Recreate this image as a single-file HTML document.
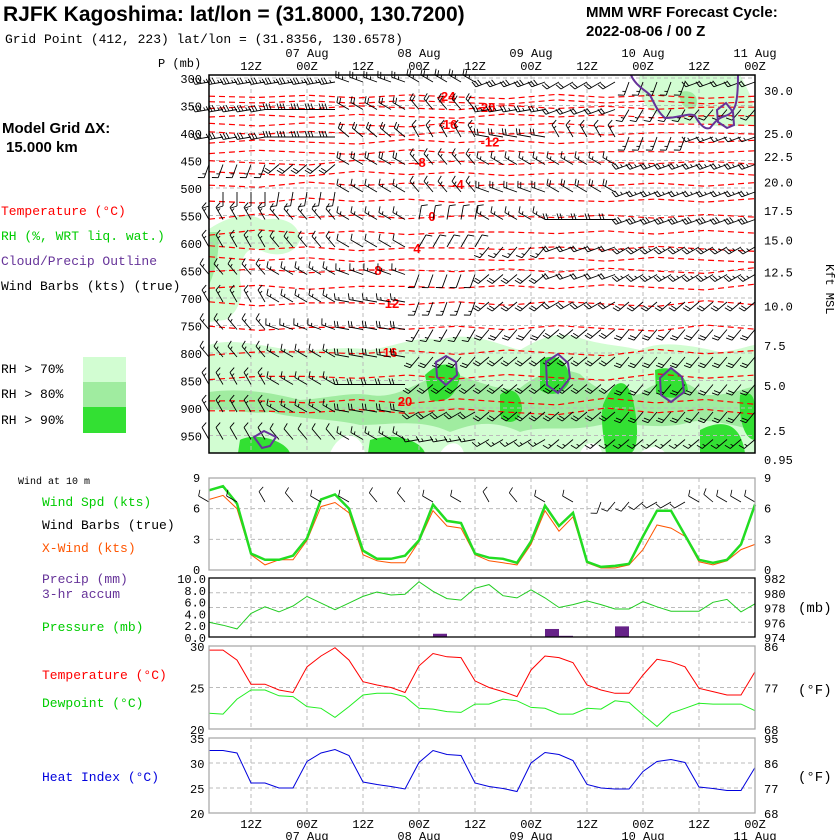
<!DOCTYPE html>
<html><head><meta charset="utf-8"><style>
body{margin:0;background:#fff;}
svg{display:block;font-family:"Liberation Mono","DejaVu Sans Mono",monospace;}
.s{font-family:"Liberation Sans",sans-serif;}
</style></head><body>
<svg id="c" width="840" height="840" viewBox="0 0 840 840" xmlns="http://www.w3.org/2000/svg">
<g class="s">
<text x="3" y="21" font-size="21" font-weight="bold">RJFK Kagoshima:  lat/lon = (31.8000, 130.7200)</text>
<text x="5" y="43" font-size="13" font-family="Liberation Mono,monospace">Grid Point (412, 223) lat/lon = (31.8356, 130.6578)</text>
<text x="586" y="17" font-size="15" font-weight="bold">MMM WRF Forecast Cycle:</text>
<text x="586" y="36" font-size="15" font-weight="bold">2022-08-06 / 00  Z</text>
<text x="2" y="133" font-size="15" font-weight="bold">Model Grid ΔX:</text>
<text x="6" y="152" font-size="15" font-weight="bold">15.000 km</text>
</g>
<g font-size="13">
<text x="1" y="215" fill="#f00">Temperature (°C)</text>
<text x="1" y="240" fill="#00cc00">RH (%, WRT liq. wat.)</text>
<text x="1" y="265" fill="#663399">Cloud/Precip Outline</text>
<text x="1" y="290" fill="#000">Wind Barbs (kts) (true)</text>
<text x="1" y="373">RH &gt; 70%</text>
<text x="1" y="398">RH &gt; 80%</text>
<text x="1" y="424">RH &gt; 90%</text>
<rect x="83" y="357" width="43" height="25" fill="#d2fdd2"/>
<rect x="83" y="382" width="43" height="25" fill="#a0eca0"/>
<rect x="83" y="407" width="43" height="26" fill="#33e033"/>
<text x="18" y="484" font-size="10">Wind at 10 m</text>
<text x="42" y="506" fill="#00cc00">Wind Spd (kts)</text>
<text x="42" y="529">Wind Barbs (true)</text>
<text x="42" y="552" fill="#ff5500">X-Wind (kts)</text>
<text x="42" y="583" fill="#663399">Precip (mm)</text>
<text x="42" y="598" fill="#663399">3-hr accum</text>
<text x="42" y="631" fill="#00cc00">Pressure (mb)</text>
<text x="42" y="679" fill="#f00">Temperature (°C)</text>
<text x="42" y="707" fill="#00cc00">Dewpoint (°C)</text>
<text x="42" y="781" fill="#0000dd">Heat Index (°C)</text>
</g>
<g id="topPanel"></g>
<g id="botPanel"></g>
</svg>
<script>
const NS="http://www.w3.org/2000/svg";
// ---- data ----
const levels=[300,350,400,450,500,550,600,650,700,750,800,850,900,950];
const kftLabels=["30.0","25.0","22.5","20.0","17.5","15.0","12.5","10.0","7.5","5.0","2.5","0.95"];
const kftPres=[322,400,442,488,540,594,652,714,785,858,940,993];
const hourLabels=["12Z","00Z","12Z","00Z","12Z","00Z","12Z","00Z","12Z","00Z"];
const dateLabels=["07 Aug","08 Aug","09 Aug","10 Aug","11 Aug"];
const isoTemps=[-24,-20,-16,-12,-8,-4,0,4,8,12,16,20];
const isoPres=[333,353,384,415,453,493,551,609,649,709,798,887];
const isoWiggle=[0,3,-2,4,-3,2,6,-4,3,-2,5,0];
const barbDir=[[260,260,290,300,250,240,200,250],[260,270,300,320,260,250,210,220],[260,270,310,330,280,330,200,250],[200,230,300,320,300,300,250,250],[180,190,300,320,290,300,250,250],[330,320,300,10,300,270,250,250],[330,320,300,30,220,250,240,240],[320,300,290,200,230,250,240,240],[330,300,280,200,230,240,230,230],[320,290,280,210,220,230,220,220],[320,300,280,220,230,230,220,220],[330,300,270,230,230,230,220,220],[330,300,280,240,230,230,220,220],[330,320,300,260,240,230,230,230]];
const barbSpd=[[35,35,25,25,30,20,15,20],[35,30,20,20,25,20,15,15],[30,30,20,15,20,15,15,15],[15,20,20,15,15,15,25,25],[10,10,15,15,20,20,25,25],[15,15,15,10,15,20,30,30],[15,15,10,10,15,20,25,25],[15,15,15,10,20,20,25,25],[15,15,15,15,20,20,20,20],[15,15,20,15,20,20,20,20],[15,15,20,20,20,20,20,20],[15,15,20,20,20,20,20,20],[15,15,20,20,20,20,20,20],[10,10,15,15,15,15,15,15]];
const windSpd=[7.8,8.2,6.5,1.6,1.0,1.0,1.4,3.1,6.9,7.4,6.0,1.9,1.1,1.1,1.4,2.9,6.4,4.8,4.6,1.6,1.2,1.1,0.7,2.8,6.3,4.3,5.6,0.8,0.3,0.4,0.6,3.3,5.8,5.8,3.4,1.0,0.7,1.0,2.5,6.4];
const xWind=[6.9,7.3,6.0,1.5,0.5,1.0,1.0,2.9,6.2,6.6,5.6,1.5,0.9,0.7,0.7,2.8,5.8,4.3,4.1,1.5,0.9,0.7,0.5,2.5,5.8,3.8,5.2,0.7,0.2,0.2,0.5,2.0,4.4,4.1,3.3,0.8,0.5,0.9,2.0,2.5];
const sfcDir=[300,300,300,320,330,330,320,320,300,300,300,320,320,320,320,300,300,300,300,320,330,320,320,300,300,300,300,0,200,220,220,230,240,240,240,300,310,300,300,300];
const pressure=[976.0,975.6,975.1,977.2,978.1,977.4,978.2,979.5,978.6,977.7,978.6,979.5,980.1,979.7,979.8,981.5,980.2,979.2,979.0,980.6,981.1,979.6,979.3,980.4,979.3,978.0,978.4,978.9,978.4,977.8,977.8,978.8,978.1,977.5,977.5,977.5,978.7,979.1,977.4,978.5];
const precip=[0,0,0,0,0,0,0,0,0,0,0,0,0,0,0,0,0.55,0,0,0,0,0,0,0,1.36,0.2,0,0,0,1.8,0,0,0,0,0,0,0,0,0];
const temp=[29.5,29.5,28.3,25.4,25.4,24.7,24.4,27.5,28.8,29.8,28.3,25.7,25.3,25.0,24.4,27.6,29.1,28.7,28.6,25.8,25.0,24.5,23.9,27.1,28.8,28.6,28.0,25.3,24.7,24.3,24.3,26.5,28.4,28.1,27.5,24.9,24.5,24.1,24.1,26.9];
const dewp=[21.9,21.8,23.6,24.7,24.7,24.0,23.9,22.7,22.5,21.4,22.7,24.1,24.3,24.3,23.9,22.5,22.4,22.1,22.0,23.0,23.0,23.6,23.4,22.6,22.5,21.8,21.8,22.5,22.4,23.4,23.2,21.7,20.3,21.9,22.5,23.1,23.0,23.0,23.0,22.2];
const heatIdx=[32.5,32.5,32.0,26.0,26.0,25.0,25.0,30.3,32.0,32.7,31.5,26.2,25.7,25.3,24.8,30.1,32.5,31.7,31.5,26.0,25.3,24.9,24.3,30.0,32.1,31.7,30.5,25.7,25.0,24.8,24.8,28.3,30.3,30.7,30.1,25.2,24.9,24.5,24.5,29.1];
// ---- scales ----
const X0=209,X1=755,DX=14;
const xI=i=>X0+i*DX;
const yP=p=>78+(p-300)/50*27.5;
const ySpd=v=>570-v*(92/9);
const yPres=v=>637-(v-974)*(59/8);
const yPrecip=v=>637-v*5.9;
const yT=v=>729-(v-20)*8.3;
const yHI=v=>813-(v-20)*5;
function el(tag,attrs,parent,text){const e=document.createElementNS(NS,tag);for(const k in attrs)e.setAttribute(k,attrs[k]);if(text!==undefined)e.textContent=text;parent.appendChild(e);return e;}
const gTop=document.getElementById('topPanel'),gBot=document.getElementById('botPanel');
const gridX=[];for(let k=0;k<10;k++)gridX.push(251+56*k);
// ---- RH shading ----
const shade=[
["#d2fdd2","M209,229 C230,215 250,212 262,220 C285,215 300,225 300,240 C295,255 275,258 260,250 C245,245 240,260 240,280 C245,300 235,315 225,320 L209,322 Z"],
["#d2fdd2","M209,345 C230,338 260,345 290,350 C320,352 340,345 370,350 C400,345 420,335 440,340 C470,330 500,345 520,350 C540,338 560,330 580,338 C600,345 620,345 640,350 C660,340 690,345 720,352 C740,350 750,345 755,345 L755,453 L209,453 Z"],
["#a0eca0","M209,232 L218,232 C220,250 216,270 209,285 Z"],
["#a0eca0","M209,392 C240,388 270,392 300,400 C330,398 350,392 370,395 C400,400 420,378 450,372 C480,382 500,392 520,388 C540,372 560,366 580,374 C600,394 620,398 640,394 C660,376 690,378 700,394 C720,398 740,390 755,386 L755,430 C730,425 710,418 690,422 C660,432 620,420 600,425 C570,432 540,425 520,432 C490,418 470,425 450,432 C420,418 390,425 360,425 C330,418 300,420 270,412 C250,415 230,408 209,410 Z"],
["#33e033","M425,375 C440,360 455,362 460,375 C458,395 445,405 430,400 Z"],
["#33e033","M540,360 C555,352 568,360 570,380 C565,395 550,397 540,390 Z"],
["#33e033","M603,405 C615,375 630,375 635,410 C640,440 635,453 630,453 L606,453 C604,440 600,420 603,405 Z"],
["#33e033","M655,370 C668,365 685,370 688,390 C680,400 665,400 656,392 Z"],
["#33e033","M500,395 C510,385 522,392 522,410 C518,425 505,425 500,415 Z"],
["#33e033","M740,395 C750,390 755,395 755,410 L755,440 C745,440 738,420 740,395 Z"],
["#33e033","M240,440 C255,432 285,440 290,453 L238,453 Z"],
["#33e033","M370,440 C395,432 420,440 425,453 L368,453 Z"],
["#33e033","M700,430 C720,420 740,420 745,453 L700,453 Z"],
["#d2fdd2","M640,75 L740,75 C748,90 755,100 755,125 C740,125 720,130 700,122 C680,128 665,118 650,110 C640,100 636,85 640,75 Z"],
["#a0eca0","M680,92 C695,88 700,100 695,108 C685,112 678,102 680,92 Z"]
];
const gS=el('g',{},gTop);
shade.forEach(s=>{const p=el('path',{d:s[1],fill:s[0]},gS);});
[["M330,453 C340,430 360,430 365,453 Z"],["M580,453 C585,440 600,440 602,453 Z"],["M640,453 C650,445 660,445 665,453 Z"],["M440,453 C448,440 460,440 464,453 Z"]].forEach(h=>{const p=el('path',{d:h[0],fill:'#fff'},gS);});
// ---- grids ----
const gG=el('g',{stroke:'#bbb','stroke-dasharray':'4,3','stroke-width':1},gTop);
levels.forEach(p=>el('line',{x1:X0,x2:X1,y1:yP(p),y2:yP(p)},gG));
gridX.forEach(x=>el('line',{x1:x,x2:x,y1:75,y2:453},gG));
// ---- isotherms ----
const gI=el('g',{},gTop);
const isoLabelX=[446,486,448,490,420,458,432,417,378,392,390,405];
for(let k=0;k<isoTemps.length;k++){
  const p0=isoPres[k];
  for(const off of [0,(k<isoTemps.length-1?(isoPres[k+1]-p0)/2:18)]){
    let d='';for(let j=0;j<isoWiggle.length;j++){const x=X0+j*(X1-X0)/(isoWiggle.length-1);const y=yP(p0+off+isoWiggle[(j+k)%isoWiggle.length]*0.5*(1+p0/600));d+=(j?'L':'M')+x.toFixed(1)+','+y.toFixed(1);}
    const l=el('path',{d:d,fill:'none',stroke:'#f00','stroke-width':1.2,'stroke-dasharray':'6,4'},gI);
    
  }
  const t=el('text',{x:isoLabelX[k],y:yP(p0)+5,fill:'#f00','font-size':13,'font-weight':'bold','font-family':'Liberation Sans,sans-serif','text-anchor':'middle'},gI,String(isoTemps[k]));
  
}
// ---- barbs ----
function barb(g,x,y,dir,spd,L,w){
  const r=dir*Math.PI/180, ux=Math.sin(r), uy=-Math.cos(r);
  const ex=x+ux*L, ey=y+uy*L;
  let d=`M${x},${y}L${ex.toFixed(1)},${ey.toFixed(1)}`;
  const px=-uy, py=ux; let n=Math.round(spd/5), pos=0;
  while(n>=2){const bx=ex-ux*pos,by=ey-uy*pos;d+=`M${bx.toFixed(1)},${by.toFixed(1)}L${(bx+px*6+ux*2).toFixed(1)},${(by+py*6+uy*2).toFixed(1)}`;pos+=3;n-=2;}
  if(n===1){const bx=ex-ux*(pos+1),by=ey-uy*(pos+1);d+=`M${bx.toFixed(1)},${by.toFixed(1)}L${(bx+px*3+ux).toFixed(1)},${(by+py*3+uy).toFixed(1)}`;}
  const p=el('path',{d:d,fill:'none',stroke:'#000','stroke-width':w||1},g);
  
  
}
const gB=el('g',{},gTop);
levels.forEach((p,li)=>{for(let i=0;i<40;i++){const s=Math.min(7,Math.floor(i/5));barb(gB,xI(i),yP(p)+4,barbDir[li][s],barbSpd[li][s],14,0.9);}});
// ---- cloud outlines ----
const clouds=["M631,75 C635,85 645,90 650,95 C655,105 658,112 665,118 C680,118 690,112 695,116 C700,125 705,130 710,128 C715,122 718,118 725,116 C735,113 738,105 738,75",
"M436,362 L446,356 L456,362 L457,375 L446,385 L437,377 Z","M546,362 L558,354 L568,363 L570,378 L558,393 L547,385 Z","M660,378 L671,368 L682,377 L684,392 L671,402 L661,395 Z","M254,437 L264,431 L276,437 L270,446 L262,448 Z","M717,110 L726,103 L733,112 L734,125 L727,128 L718,122 Z"];
clouds.forEach(c=>{const p=el('path',{d:c,fill:'none',stroke:'#663399','stroke-width':2},gTop);});
const tf=el('rect',{x:X0,y:75,width:X1-X0,height:378,fill:'none',stroke:'#000','stroke-width':1.5},gTop);


const gA=el('g',{'font-size':12},gTop);
el('text',{x:158,y:67},gA,'P (mb)');
levels.forEach(p=>{const t=el('text',{x:202,y:yP(p)+5,'text-anchor':'end'},gA,String(p));});
kftLabels.forEach((l,k)=>{const t=el('text',{x:764,y:yP(kftPres[k])+5},gA,l);});
el('text',{x:826,y:264,transform:'rotate(90 826 264)'},gA,'Kft MSL');
hourLabels.forEach((h,k)=>{el('text',{x:gridX[k],y:70,'text-anchor':'middle'},gA,h);el('text',{x:gridX[k],y:828,'text-anchor':'middle'},gA,h);});
dateLabels.forEach((d,k)=>{el('text',{x:gridX[2*k+1],y:57,'text-anchor':'middle'},gA,d);el('text',{x:gridX[2*k+1],y:840,'text-anchor':'middle'},gA,d);});
// ---- bottom panels ----
function frame(y0,y1,col,name){const r=el('rect',{x:X0,y:y0,width:X1-X0,height:y1-y0,fill:'none',stroke:col,'stroke-width':1.3},gBot);}
function hgrid(ys){const g=el('g',{stroke:'#bbb','stroke-dasharray':'4,3'},gBot);ys.forEach(y=>el('line',{x1:X0,x2:X1,y1:y,y2:y},g));}
function vgrid(y0,y1){const g=el('g',{stroke:'#bbb','stroke-dasharray':'4,3'},gBot);gridX.forEach(x=>el('line',{x1:x,x2:x,y1:y0,y2:y1},g));}
function line(arr,fy,col,w,name){const p=el('path',{d:arr.map((v,i)=>(i?'L':'M')+xI(i)+','+fy(v).toFixed(1)).join(''),fill:'none',stroke:col,'stroke-width':w},gBot);}
function lbl(x,y,t,anchor,size){const e=el('text',{x:x,y:y,'font-size':size||12,'text-anchor':anchor||'start'},gBot,t);}
// wind
vgrid(478,570);hgrid([ySpd(3),ySpd(6)]);
line(xWind,ySpd,'#ff5500',1,'xwind-line');line(windSpd,ySpd,'#22dd22',2.5,'wind-speed-line');
sfcDir.forEach((d,i)=>{if(i%2===0||i>27)barb(gBot,xI(i),502,d,10,12,0.8);});
frame(478,570,'#aaa','wind-frame');
[[0,'0'],[3,'3'],[6,'6'],[9,'9']].forEach(([v,t])=>{lbl(193,ySpd(v)+4,t);lbl(764,ySpd(v)+4,t);});
// pressure / precip
vgrid(578,637);hgrid([yPres(976),yPres(978),yPres(980)]);
precip.forEach((v,i)=>{if(v>0){const r=el('rect',{x:xI(i),y:yPrecip(v),width:DX,height:637-yPrecip(v),fill:'#662288'},gBot);}});
line(pressure,yPres,'#22cc22',1,'pressure-line');
frame(578,637,'#000','pressure-frame');
[0,2,4,6,8,10].forEach(v=>lbl(206,yPrecip(v)+5,v.toFixed(1),'end'));
[974,976,978,980,982].forEach(v=>lbl(764,yPres(v)+5,String(v)));
lbl(798,612,'(mb)','start',14);
// temperature
vgrid(646,729);hgrid([yT(25)]);
line(dewp,yT,'#22ee22',1,'dewpoint-line');line(temp,yT,'#ff0000',1,'temperature-line');
frame(646,729,'#aaa','temp-frame');
[[20,'20'],[25,'25'],[30,'30']].forEach(([v,t])=>lbl(190,yT(v)+5,t));
[[68,729],[77,yT(25)],[86,646]].forEach(([v,y])=>lbl(764,y+5,String(v)));
lbl(798,694,'(°F)','start',14);
// heat index
vgrid(738,813);hgrid([yHI(25),yHI(30)]);
line(heatIdx,yHI,'#0000dd',1,'heat-index-line');
frame(738,813,'#aaa','heat-frame');
[20,25,30,35].forEach(v=>lbl(190,yHI(v)+5,String(v)));
[[68,813],[77,yHI(25)],[86,yHI(30)],[95,738]].forEach(([v,y])=>lbl(764,y+5,String(v)));
lbl(798,781,'(°F)','start',14);
</script>
</body></html>
